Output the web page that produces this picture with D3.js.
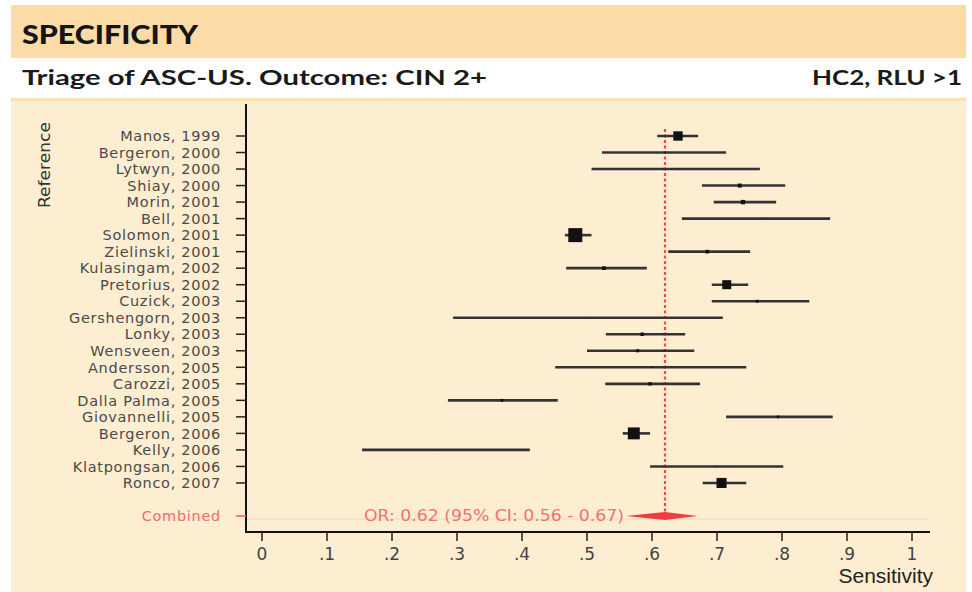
<!DOCTYPE html>
<html>
<head>
<meta charset="utf-8">
<script src="https://cdn.jsdelivr.net/npm/d3@7"></script>
<style>
  body { margin: 0; background: #ffffff; }
  svg { display: block; }
</style>
</head>
<body>
<svg id="chart" width="972" height="592"></svg>
<script>
// Study-level sensitivity estimates with 95% confidence intervals
const studies = [
  "Manos, 1999", "Bergeron, 2000", "Lytwyn, 2000", "Shiay, 2000", "Morin, 2001",
  "Bell, 2001", "Solomon, 2001", "Zielinski, 2001", "Kulasingam, 2002", "Pretorius, 2002",
  "Cuzick, 2003", "Gershengorn, 2003", "Lonky, 2003", "Wensveen, 2003", "Andersson, 2005",
  "Carozzi, 2005", "Dalla Palma, 2005", "Giovannelli, 2005", "Bergeron, 2006", "Kelly, 2006",
  "Klatpongsan, 2006", "Ronco, 2007"
];
const estimates = [0.640, 0.620, 0.640, 0.735, 0.740, 0.770, 0.482, 0.685, 0.526, 0.715,
                   0.762, 0.500, 0.585, 0.578, 0.600, 0.597, 0.369, 0.794, 0.572, 0.270,
                   0.700, 0.707];
const lower =     [0.608, 0.523, 0.507, 0.677, 0.695, 0.646, 0.466, 0.625, 0.468, 0.692,
                   0.692, 0.294, 0.529, 0.500, 0.451, 0.528, 0.286, 0.714, 0.555, 0.154,
                   0.597, 0.678];
const upper =     [0.671, 0.714, 0.766, 0.805, 0.791, 0.874, 0.507, 0.751, 0.592, 0.748,
                   0.842, 0.709, 0.651, 0.665, 0.745, 0.674, 0.455, 0.878, 0.597, 0.412,
                   0.802, 0.745];
// Relative study weights (percent) used for marker size
const weights =   [6.5, 0.1, 0.1, 1.2, 1.4, 0.1, 14.5, 1.0, 1.0, 6.0,
                   0.6, 0.1, 0.9, 0.7, 0.1, 0.8, 0.6, 0.5, 10.5, 0.1,
                   0.1, 7.5];

// Pooled estimate
const pooledEstimate = 0.62;
const pooledLower = 0.56;
const pooledUpper = 0.67;

const xTicks = [0, 0.1, 0.2, 0.3, 0.4, 0.5, 0.6, 0.7, 0.8, 0.9, 1];
const xTickLabels = ["0", ".1", ".2", ".3", ".4", ".5", ".6", ".7", ".8", ".9", "1"];

const svg = d3.select("#chart");
const FONT = "'DejaVu Sans', sans-serif";

// ---- header panels ----
svg.append("rect").attr("x", 11).attr("y", 5).attr("width", 955).attr("height", 587).attr("fill", "#fdedd1");
svg.append("rect").attr("x", 11).attr("y", 5).attr("width", 955).attr("height", 53).attr("fill", "#fcdca6");
svg.append("rect").attr("x", 11).attr("y", 58).attr("width", 955).attr("height", 40).attr("fill", "#ffffff");
svg.append("rect").attr("x", 11).attr("y", 98).attr("width", 955).attr("height", 3).attr("fill", "#fbe0b0");

svg.append("text").attr("x", 22).attr("y", 44)
  .attr("font-family", "Lato, sans-serif").attr("font-weight", 900).attr("font-size", 27)
  .attr("fill", "#151515").attr("textLength", 176).attr("lengthAdjust", "spacingAndGlyphs")
  .text("SPECIFICITY");
svg.append("text").attr("x", 22).attr("y", 85)
  .attr("font-family", "Lato, sans-serif").attr("font-weight", 700).attr("font-size", 21)
  .attr("fill", "#1a1a1a").attr("textLength", 465).attr("lengthAdjust", "spacingAndGlyphs")
  .text("Triage of ASC-US. Outcome: CIN 2+");
svg.append("text").attr("x", 962).attr("y", 85).attr("text-anchor", "end")
  .attr("font-family", "Lato, sans-serif").attr("font-weight", 700).attr("font-size", 21)
  .attr("fill", "#1a1a1a").attr("textLength", 150).attr("lengthAdjust", "spacingAndGlyphs")
  .text("HC2, RLU >1");

// ---- scales ----
const x = d3.scaleLinear().domain([0, 1]).range([262, 912]);
const combinedRow = studies.length + 1;
const y = d3.scaleLinear().domain([0, combinedRow]).range([136, 516]);
const size = d3.scaleSqrt().domain([0, 14.5]).range([0, 14]);

const axisY = 532, axisLeft = 246, axisRight = 930;

// faint guide through the pooled row
svg.append("line").attr("x1", axisLeft).attr("x2", axisRight)
  .attr("y1", y(combinedRow) + 3).attr("y2", y(combinedRow) + 3)
  .attr("stroke", "#e9dcc4").attr("stroke-width", 1);

// ---- y axis: study labels ----
const labelStyle = sel => sel.attr("font-family", FONT).attr("font-size", 14.5)
  .attr("letter-spacing", 0.7).attr("text-anchor", "end").attr("dy", "0.36em");
const yAxis = svg.append("g");
yAxis.append("line").attr("x1", axisLeft).attr("x2", axisLeft).attr("y1", 104).attr("y2", axisY + 1)
  .attr("stroke", "#111").attr("stroke-width", 2);
studies.forEach((s, i) => {
  yAxis.append("line").attr("x1", axisLeft - 10).attr("x2", axisLeft).attr("y1", y(i)).attr("y2", y(i))
    .attr("stroke", "#222").attr("stroke-width", 1.5);
  yAxis.append("text").attr("x", 221).attr("y", y(i)).call(labelStyle)
    .attr("fill", "#4a4a4a").text(s);
});
yAxis.append("line").attr("x1", axisLeft - 10).attr("x2", axisLeft)
  .attr("y1", y(combinedRow)).attr("y2", y(combinedRow))
  .attr("stroke", "#f05a5a").attr("stroke-width", 1.5);
yAxis.append("text").attr("x", 221).attr("y", y(combinedRow)).call(labelStyle)
  .attr("fill", "#f26d6d").text("Combined");

svg.append("text").attr("transform", "translate(50,122) rotate(-90)").attr("text-anchor", "end")
  .attr("font-family", FONT).attr("font-size", 16).attr("fill", "#333")
  .attr("textLength", 86).attr("lengthAdjust", "spacingAndGlyphs").text("Reference");

// ---- x axis ----
const xAxis = svg.append("g");
xAxis.append("line").attr("x1", axisLeft - 1).attr("x2", axisRight).attr("y1", axisY).attr("y2", axisY)
  .attr("stroke", "#111").attr("stroke-width", 2);
xTicks.forEach((t, i) => {
  xAxis.append("line").attr("x1", x(t)).attr("x2", x(t)).attr("y1", axisY).attr("y2", axisY + 9)
    .attr("stroke", "#222").attr("stroke-width", 1.5);
  xAxis.append("text").attr("x", x(t)).attr("y", 560).attr("text-anchor", "middle")
    .attr("font-family", FONT).attr("font-size", 17).attr("fill", "#444").text(xTickLabels[i]);
});
svg.append("text").attr("x", 933).attr("y", 583).attr("text-anchor", "end")
  .attr("font-family", "'Liberation Sans', Arial, sans-serif").attr("font-size", 21).attr("fill", "#222")
  .text("Sensitivity");

// ---- pooled reference line ----
svg.append("line").attr("x1", x(pooledEstimate)).attr("x2", x(pooledEstimate))
  .attr("y1", 129).attr("y2", y(combinedRow))
  .attr("stroke", "#f04848").attr("stroke-width", 2.2).attr("stroke-dasharray", "3,2.5");

// ---- study CIs and point estimates ----
const rows = svg.append("g").selectAll("g").data(studies).join("g");
rows.append("line")
  .attr("x1", (d, i) => x(lower[i])).attr("x2", (d, i) => x(upper[i]))
  .attr("y1", (d, i) => y(i)).attr("y2", (d, i) => y(i))
  .attr("stroke", "#333").attr("stroke-width", 2.6);
rows.append("rect")
  .attr("x", (d, i) => x(estimates[i]) - size(weights[i]) / 2)
  .attr("y", (d, i) => y(i) - size(weights[i]) / 2)
  .attr("width", (d, i) => size(weights[i]))
  .attr("height", (d, i) => size(weights[i]))
  .attr("fill", "#111");

// ---- pooled diamond and label ----
const yc = y(combinedRow);
svg.append("path")
  .attr("d", `M${x(pooledLower)},${yc} L${x(pooledEstimate)},${yc - 4} L${x(pooledUpper)},${yc} L${x(pooledEstimate)},${yc + 4} Z`)
  .attr("fill", "#f03c3c");
svg.append("text").attr("x", 624).attr("y", yc).attr("dy", "0.36em").attr("text-anchor", "end")
  .attr("font-family", FONT).attr("font-size", 15).attr("fill", "#f27272")
  .attr("textLength", 260).attr("lengthAdjust", "spacingAndGlyphs")
  .text(`OR: ${pooledEstimate.toFixed(2)} (95% CI: ${pooledLower.toFixed(2)} - ${pooledUpper.toFixed(2)})`);
</script>
</body>
</html>
